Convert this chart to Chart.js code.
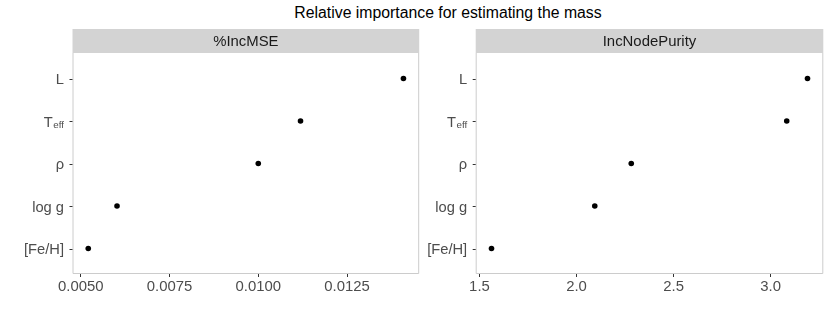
<!DOCTYPE html>
<html>
<head>
<meta charset="utf-8">
<script src="https://cdn.jsdelivr.net/npm/chart.js@4"></script>
<style>
    body { margin: 0; background: #fff; }
    #wrap { position: relative; width: 830px; height: 316px; overflow: hidden; }
    #title {
        position: absolute; top: 4px; left: 48px; width: 800px; line-height: 18px;
        text-align: center; color: #000;
        font: 15.8px "Liberation Sans", Arial, sans-serif;
    }
    canvas { position: absolute; top: 0; }
</style>
</head>
<body>
<div id="wrap">
    <div id="title">Relative importance for estimating the mass</div>
    <canvas id="chartMSE" width="422" height="316" style="left:0"></canvas>
    <canvas id="chartPurity" width="408" height="316" style="left:422px"></canvas>
</div>
<script>
// Dados (de cima para baixo)
const categories = ['L', 'Teff', 'ρ', 'log g', '[Fe/H]'];
const incMSE = [0.01409, 0.01119, 0.0100, 0.00602, 0.00521];
const incNodePurity = [3.19, 3.083, 2.282, 2.094, 1.562];
const mseTicks = [0.005, 0.0075, 0.01, 0.0125];
const purityTicks = [1.5, 2.0, 2.5, 3.0];

const FONT = '"Liberation Sans", Arial, sans-serif';

// Faixa cinza do facet, borda do painel e rótulos do eixo y
const facetPlugin = {
    id: 'facet',
    beforeDraw(chart, args, opts) {
        const { ctx, chartArea: a } = chart;
        ctx.save();
        ctx.fillStyle = '#d3d3d3';
        ctx.fillRect(a.left, 29, a.right - a.left, a.top - 29);
        ctx.fillStyle = '#1a1a1a';
        ctx.font = `14.9px ${FONT}`;
        ctx.textAlign = 'center';
        ctx.textBaseline = 'middle';
        ctx.fillText(opts.label, (a.left + a.right) / 2, (29 + a.top) / 2 + 1);
        ctx.restore();
    },
    afterDraw(chart) {
        const { ctx, chartArea: a } = chart;
        const yScale = chart.scales.y;
        ctx.save();
        ctx.strokeStyle = '#cccccc';
        ctx.lineWidth = 1;
        ctx.beginPath();
        ctx.moveTo(a.left + 0.5, a.top);
        ctx.lineTo(a.left + 0.5, a.bottom - 0.5);
        ctx.lineTo(a.right - 0.5, a.bottom - 0.5);
        ctx.lineTo(a.right - 0.5, a.top);
        ctx.stroke();

        ctx.textAlign = 'right';
        ctx.textBaseline = 'alphabetic';
        categories.forEach((label, i) => {
            const y = yScale.getPixelForValue(i + 1);
            // marca do tick
            ctx.strokeStyle = '#333333';
            ctx.beginPath();
            ctx.moveTo(a.left - 3, Math.round(y) + 0.5);
            ctx.lineTo(a.left, Math.round(y) + 0.5);
            ctx.stroke();

            const xr = a.left - 8.5;
            ctx.fillStyle = '#4d4d4d';
            if (label === 'Teff') {
                ctx.font = `9.8px ${FONT}`;
                const subW = ctx.measureText('eff').width;
                ctx.fillText('eff', xr, y + 7);
                ctx.font = `14.7px ${FONT}`;
                ctx.fillText('T', xr - subW - 0.5, y + 5.5);
            } else {
                ctx.font = `14.7px ${FONT}`;
                ctx.fillText(label, xr, y + 5.5);
            }
        });
        ctx.restore();
    }
};

function expandRange(values) {
    const lo = Math.min(...values);
    const hi = Math.max(...values);
    const pad = (hi - lo) * 0.05;
    return { min: lo - pad, max: hi + pad };
}

function buildChart(canvasId, label, values, tickValues, decimals, padding) {
    const range = expandRange(values);
    return new Chart(document.getElementById(canvasId), {
        type: 'scatter',
        data: {
            datasets: [{
                data: values.map((v, i) => ({ x: v, y: i + 1 })),
                pointRadius: 2.8,
                pointHoverRadius: 2.8,
                backgroundColor: '#000',
                borderWidth: 0
            }]
        },
        options: {
            responsive: false,
            animation: false,
            layout: { padding: padding },
            plugins: {
                legend: { display: false },
                tooltip: { enabled: false },
                facet: { label: label }
            },
            scales: {
                x: {
                    type: 'linear',
                    min: range.min,
                    max: range.max,
                    afterBuildTicks: scale => {
                        scale.ticks = tickValues.map(v => ({ value: v }));
                    },
                    afterFit: scale => { scale.height = 42; },
                    grid: { drawOnChartArea: false, tickLength: 3, tickColor: '#333333' },
                    border: { display: false },
                    ticks: {
                        color: '#4d4d4d',
                        font: { family: FONT, size: 14.9 },
                        padding: 1,
                        maxRotation: 0,
                        autoSkip: false,
                        callback: v => Number(v).toFixed(decimals)
                    }
                },
                y: {
                    display: false,
                    min: 0.4,
                    max: 5.6,
                    reverse: true
                }
            }
        },
        plugins: [facetPlugin]
    });
}

document.addEventListener('DOMContentLoaded', () => {
    buildChart('chartMSE', '%IncMSE', incMSE, mseTicks, 4,
        { left: 72.5, right: 1.7, top: 53, bottom: 0 });
    buildChart('chartPurity', 'IncNodePurity', incNodePurity, purityTicks, 1,
        { left: 53.7, right: 6.7, top: 53, bottom: 0 });
});
</script>
</body>
</html>
